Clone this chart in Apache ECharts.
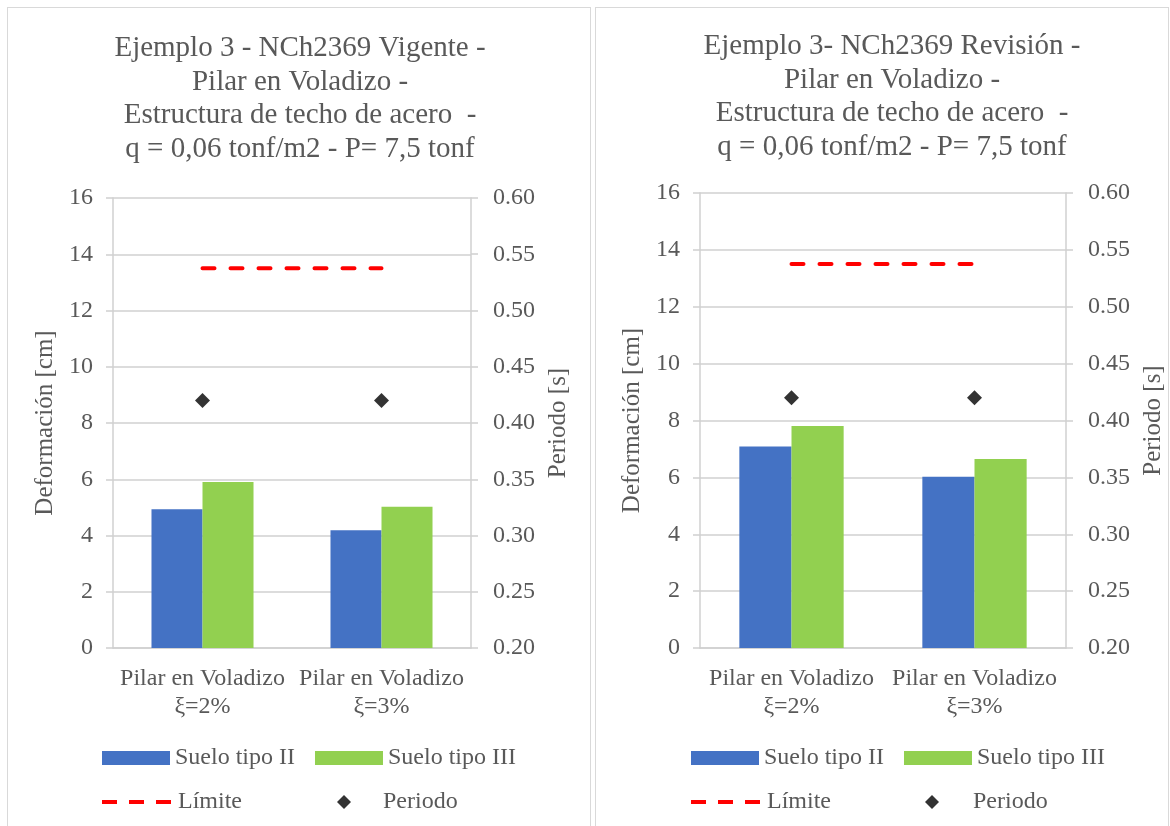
<!DOCTYPE html>
<html>
<head>
<meta charset="utf-8">
<script src="https://cdn.jsdelivr.net/npm/echarts@6.0.0/dist/echarts.min.js"></script>
<style>
  html, body { margin: 0; padding: 0; background: #fff; overflow: hidden; }
  .panel { position: absolute; top: 7px; height: 830px; border: 1px solid #d9d9d9; background: #fff; }
  #c1 { left: 7px; width: 582px; }
  #c2 { left: 595px; width: 572px; }
</style>
</head>
<body>
<div id="c1" class="panel"></div>
<div id="c2" class="panel"></div>
<script>
// Categories (x axis)
const categories = ['Pilar en Voladizo\nξ=2%', 'Pilar en Voladizo\nξ=3%'];

// NCh2369 Vigente — deformation [cm]
const vigenteSueloII = [4.93, 4.19];
const vigenteSueloIII = [5.90, 5.02];
const vigenteLimite = [13.5, 13.5];
const vigentePeriodo = [0.42, 0.42];

// NCh2369 Revisión — deformation [cm]
const revisionSueloII = [7.09, 6.02];
const revisionSueloIII = [7.81, 6.65];
const revisionLimite = [13.5, 13.5];
const revisionPeriodo = [0.42, 0.42];

// Axis ranges
const deformAxis = { min: 0, max: 16, interval: 2 };
const periodAxis = { min: 0.2, max: 0.6, interval: 0.05 };

const titleVigente = 'Ejemplo 3 - NCh2369 Vigente -\nPilar en Voladizo -\nEstructura de techo de acero  -\nq = 0,06 tonf/m2 - P= 7,5 tonf';
const titleRevision = 'Ejemplo 3- NCh2369 Revisión -\nPilar en Voladizo -\nEstructura de techo de acero  -\nq = 0,06 tonf/m2 - P= 7,5 tonf';

const FONT = "'Liberation Serif', 'Times New Roman', serif";
const TEXT = '#595959';
const LINE = '#d0d0d0';
const BLUE = '#4472C4';
const GREEN = '#92D050';
const RED = '#FF0000';

function buildOption(cfg) {
  const legendText = { fontFamily: FONT, fontSize: 24, color: TEXT, lineHeight: 24 };
  return {
    animation: false,
    textStyle: { fontFamily: FONT },
    title: {
      text: cfg.title,
      left: cfg.titleX,
      top: cfg.titleTop,
      textAlign: 'center',
      padding: 0,
      textStyle: { fontFamily: FONT, fontSize: 29, fontWeight: 'normal', color: TEXT, lineHeight: 33.5 }
    },
    grid: {
      left: cfg.grid.left, top: cfg.grid.top, width: cfg.grid.width, height: cfg.grid.height,
      containLabel: false, outerBoundsMode: 'none'
    },
    legend: [
      {
        data: ['Suelo tipo II', 'Suelo tipo III'],
        left: cfg.legendLeft, top: 733,
        itemWidth: 68, itemHeight: 14, itemGap: 20,
        icon: 'rect', selectedMode: false,
        textStyle: legendText
      },
      {
        // dashed key drawn as three short red strokes
        data: [{ name: 'Límite', icon: 'path://M0,0h15v4h-15zM27,0h15v4h-15zM54,0h15v4h-15z' }],
        left: cfg.legendLeft, top: 777,
        itemWidth: 69, itemHeight: 4, selectedMode: false,
        itemStyle: { color: RED },
        textStyle: Object.assign({ padding: [0, 0, 0, 2] }, legendText)
      },
      {
        data: ['Periodo'],
        left: cfg.diamondLeft, top: 777,
        itemWidth: 14, itemHeight: 14, icon: 'diamond', selectedMode: false,
        textStyle: Object.assign({ padding: [0, 0, 0, cfg.diamondTextPad] }, legendText)
      }
    ],
    xAxis: {
      type: 'category',
      data: categories,
      axisLine: { show: true, lineStyle: { color: LINE, width: 1.5 } },
      axisTick: { show: false },
      axisLabel: { interval: 0, fontFamily: FONT, fontSize: 24, color: TEXT, lineHeight: 28, margin: 17 }
    },
    yAxis: [
      {
        type: 'value',
        min: deformAxis.min, max: deformAxis.max, interval: deformAxis.interval,
        name: 'Deformación [cm]',
        nameLocation: 'middle', nameGap: 55, nameRotate: 90,
        nameTextStyle: { fontFamily: FONT, fontSize: 25, color: TEXT },
        axisLine: { show: true, lineStyle: { color: LINE, width: 1.5 } },
        axisTick: { show: true, length: 7, lineStyle: { color: LINE, width: 1.5 } },
        axisLabel: { fontFamily: FONT, fontSize: 24, color: TEXT, margin: 20 },
        splitLine: { show: true, lineStyle: { color: LINE, width: 1.5 } }
      },
      {
        type: 'value',
        position: 'right',
        min: periodAxis.min, max: periodAxis.max, interval: periodAxis.interval,
        name: 'Periodo [s]',
        nameLocation: 'middle', nameGap: cfg.rightNameGap, nameRotate: 90,
        nameTextStyle: { fontFamily: FONT, fontSize: 25, color: TEXT },
        axisLine: { show: true, lineStyle: { color: LINE, width: 1.5 } },
        axisTick: { show: true, length: 7, lineStyle: { color: LINE, width: 1.5 } },
        axisLabel: { fontFamily: FONT, fontSize: 24, color: TEXT, margin: 22, formatter: v => v.toFixed(2) },
        splitLine: { show: false }
      }
    ],
    series: [
      {
        name: 'Suelo tipo II', type: 'bar', yAxisIndex: 0,
        data: cfg.sueloII, barGap: '0%', barCategoryGap: '43%',
        itemStyle: { color: BLUE }
      },
      {
        name: 'Suelo tipo III', type: 'bar', yAxisIndex: 0,
        data: cfg.sueloIII, barGap: '0%', barCategoryGap: '43%',
        itemStyle: { color: GREEN }
      },
      {
        name: 'Límite', type: 'line', yAxisIndex: 0,
        data: cfg.limite, symbol: 'none',
        lineStyle: { color: RED, width: 4, type: [12, 16], cap: 'round' },
        itemStyle: { color: RED }
      },
      {
        name: 'Periodo', type: 'scatter', yAxisIndex: 1,
        data: cfg.periodo, symbol: 'diamond', symbolSize: 15,
        itemStyle: { color: '#000000' }
      }
    ]
  };
}

const chartVigente = echarts.init(document.getElementById('c1'), null, { renderer: 'canvas' });
chartVigente.setOption(buildOption({
  title: titleVigente, titleX: 292, titleTop: 24,
  grid: { left: 105, top: 190, width: 358, height: 450 },
  rightNameGap: 74,
  legendLeft: 89, diamondLeft: 324, diamondTextPad: 27,
  sueloII: vigenteSueloII, sueloIII: vigenteSueloIII,
  limite: vigenteLimite, periodo: vigentePeriodo
}));

const chartRevision = echarts.init(document.getElementById('c2'), null, { renderer: 'canvas' });
chartRevision.setOption(buildOption({
  title: titleRevision, titleX: 296, titleTop: 22,
  grid: { left: 104, top: 185, width: 366, height: 455 },
  rightNameGap: 74,
  legendLeft: 90, diamondLeft: 324, diamondTextPad: 29,
  sueloII: revisionSueloII, sueloIII: revisionSueloIII,
  limite: revisionLimite, periodo: revisionPeriodo
}));
</script>
</body>
</html>
